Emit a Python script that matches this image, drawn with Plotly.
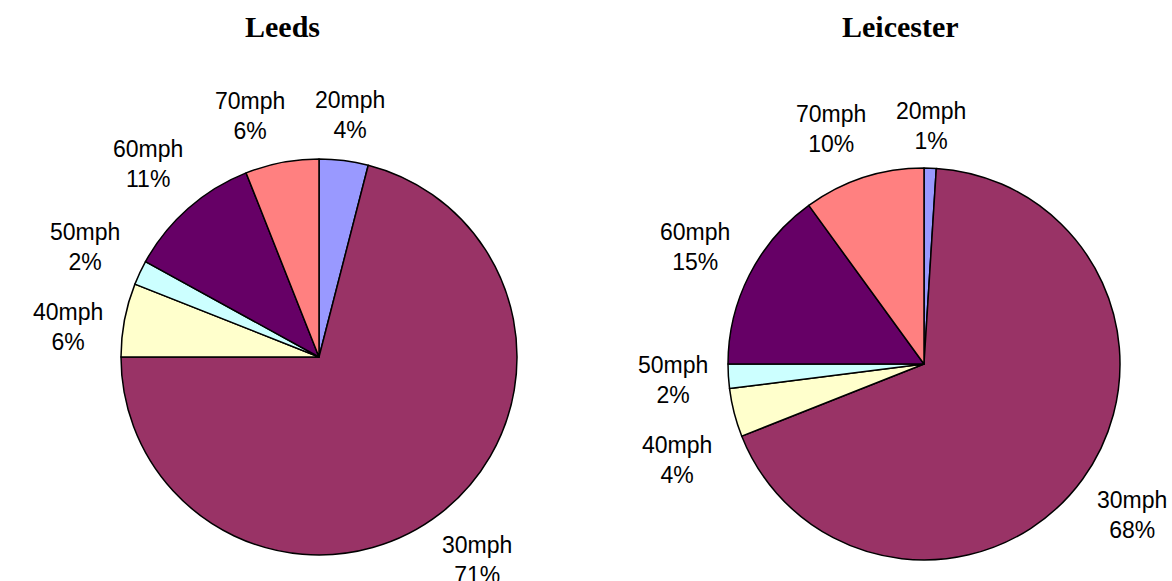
import math
import plotly.graph_objects as go

# Speed-limit categories and share of casualties per city
speed_limits = ["20mph", "30mph", "40mph", "50mph", "60mph", "70mph"]
leeds_share = [4, 71, 6, 2, 11, 6]
leicester_share = [1, 68, 4, 2, 15, 10]
slice_colors = ["#9999FF", "#993366", "#FFFFCC", "#CCFFFF", "#660066", "#FF8080"]

W, H = 1172, 581

# label box half extents and spacing (px)
LABEL_HALF_W, LABEL_HALF_H = 38, 25
LABEL_GAP = 16
MIN_SEP_X, MIN_SEP_Y = 100, 80

label_font = dict(family="Liberation Sans, Arial", size=23, color="black")
title_font = dict(family="Liberation Serif, Times New Roman", size=30, color="black")


def pie_domain(cx, cy, r):
    return dict(
        x=[(cx - r) / W, (cx + r) / W],
        y=[(H - cy - r) / H, (H - cy + r) / H],
    )


def city_pie(values, cx, cy, r):
    return go.Pie(
        labels=speed_limits,
        values=values,
        sort=False,
        direction="clockwise",
        rotation=0,
        marker=dict(colors=slice_colors, line=dict(color="black", width=1.5)),
        textinfo="none",
        hoverinfo="label+percent",
        domain=pie_domain(cx, cy, r),
        showlegend=False,
    )


def slice_labels(values, cx, cy, r):
    """Place each category label just outside the middle of its slice."""
    total = sum(values)
    acc = 0.0
    labels = []
    for name, v in zip(speed_limits, values):
        mid = (acc + v / 2) / total * 2 * math.pi
        acc += v
        ux, uy = math.sin(mid), -math.cos(mid)
        reach = LABEL_HALF_W * abs(ux) + LABEL_HALF_H * abs(uy)
        d = r + LABEL_GAP + reach
        labels.append([cx + d * ux, cy + d * uy, f"{name}<br>{round(v / total * 100)}%"])

    # nudge overlapping labels apart: lower one down, or left one left
    for _ in range(4):
        for i in range(len(labels)):
            for j in range(i + 1, len(labels)):
                a, b = labels[i], labels[j]
                dx, dy = abs(a[0] - b[0]), abs(a[1] - b[1])
                if dx < MIN_SEP_X and dy < MIN_SEP_Y:
                    need_x, need_y = MIN_SEP_X - dx, MIN_SEP_Y - dy
                    if need_y <= need_x:
                        low = a if a[1] > b[1] else b
                        low[1] += need_y
                    else:
                        left = a if a[0] < b[0] else b
                        left[0] -= need_x
    return labels


fig = go.Figure()
pies = [
    ("Leeds", leeds_share, 319, 357, 198, 282.5),
    ("Leicester", leicester_share, 924, 364, 196, 900),
]
for title, share, cx, cy, r, tx in pies:
    fig.add_trace(city_pie(share, cx, cy, r))
    for px, py, txt in slice_labels(share, cx, cy, r):
        fig.add_annotation(text=txt, x=px / W, y=1 - py / H, xref="paper", yref="paper",
                           showarrow=False, font=label_font, align="center",
                           xanchor="center", yanchor="middle")
    fig.add_annotation(text=f"<b>{title}</b>", x=tx / W, y=1 - 27 / H, xref="paper", yref="paper",
                       showarrow=False, font=title_font, xanchor="center", yanchor="middle")

fig.update_layout(
    width=W,
    height=H,
    margin=dict(l=0, r=0, t=0, b=0),
    paper_bgcolor="white",
    plot_bgcolor="white",
)

fig.write_html("out.html")
